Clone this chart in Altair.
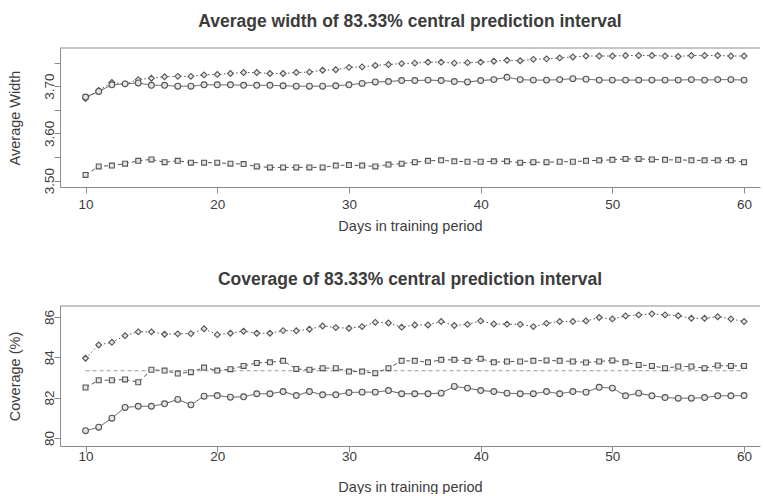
import altair as alt
import pandas as pd

# Training-period lengths (days)
days = list(range(10, 61))

# Average width of the 83.33% central prediction interval, three methods
width_diamond = [3.674, 3.691, 3.708, 3.705, 3.714, 3.717, 3.720, 3.721, 3.721, 3.724,
                 3.725, 3.727, 3.729, 3.729, 3.727, 3.727, 3.729, 3.730, 3.734, 3.735,
                 3.740, 3.741, 3.744, 3.746, 3.748, 3.749, 3.751, 3.751, 3.749, 3.750,
                 3.751, 3.753, 3.755, 3.754, 3.757, 3.758, 3.760, 3.762, 3.764, 3.764,
                 3.764, 3.765, 3.765, 3.765, 3.764, 3.763, 3.765, 3.765, 3.765, 3.764,
                 3.764]
width_circle = [3.677, 3.689, 3.703, 3.705, 3.707, 3.702, 3.702, 3.700, 3.700, 3.703,
                3.703, 3.703, 3.702, 3.702, 3.702, 3.701, 3.700, 3.700, 3.700, 3.701,
                3.703, 3.706, 3.709, 3.710, 3.712, 3.712, 3.713, 3.712, 3.710, 3.709,
                3.712, 3.714, 3.719, 3.714, 3.713, 3.713, 3.714, 3.716, 3.715, 3.713,
                3.713, 3.713, 3.713, 3.713, 3.713, 3.713, 3.714, 3.713, 3.714, 3.714,
                3.713]
width_square = [3.512, 3.530, 3.532, 3.536, 3.542, 3.545, 3.539, 3.542, 3.538, 3.538,
                3.538, 3.536, 3.535, 3.530, 3.528, 3.528, 3.528, 3.528, 3.528, 3.532,
                3.533, 3.532, 3.530, 3.534, 3.536, 3.539, 3.542, 3.543, 3.541, 3.540,
                3.540, 3.541, 3.541, 3.538, 3.539, 3.539, 3.540, 3.540, 3.542, 3.543,
                3.544, 3.546, 3.546, 3.545, 3.544, 3.544, 3.543, 3.543, 3.543, 3.543,
                3.539]

# Coverage (%) of the same interval, three methods
cov_diamond = [83.95, 84.61, 84.74, 85.07, 85.26, 85.26, 85.14, 85.16, 85.17, 85.41,
               85.12, 85.19, 85.29, 85.19, 85.19, 85.32, 85.31, 85.39, 85.55, 85.47,
               85.44, 85.52, 85.73, 85.70, 85.49, 85.60, 85.60, 85.77, 85.57, 85.63,
               85.80, 85.65, 85.64, 85.63, 85.52, 85.68, 85.77, 85.77, 85.80, 85.97,
               85.90, 86.05, 86.10, 86.15, 86.10, 86.06, 85.93, 85.93, 86.01, 85.90,
               85.77]
cov_square = [82.50, 82.86, 82.86, 82.90, 82.76, 83.38, 83.34, 83.19, 83.26, 83.49,
              83.34, 83.41, 83.57, 83.72, 83.75, 83.82, 83.42, 83.38, 83.46, 83.46,
              83.29, 83.29, 83.21, 83.46, 83.82, 83.82, 83.75, 83.87, 83.87, 83.82,
              83.92, 83.75, 83.79, 83.79, 83.82, 83.84, 83.82, 83.79, 83.74, 83.79,
              83.84, 83.75, 83.62, 83.57, 83.46, 83.54, 83.54, 83.46, 83.59, 83.57,
              83.57]
cov_circle = [80.36, 80.53, 80.98, 81.51, 81.57, 81.57, 81.69, 81.91, 81.64, 82.07,
              82.10, 82.02, 82.04, 82.19, 82.19, 82.30, 82.10, 82.30, 82.14, 82.14,
              82.25, 82.27, 82.27, 82.35, 82.19, 82.19, 82.19, 82.22, 82.55, 82.47,
              82.35, 82.30, 82.22, 82.19, 82.19, 82.30, 82.19, 82.30, 82.27, 82.51,
              82.47, 82.09, 82.22, 82.09, 82.00, 81.97, 81.97, 82.00, 82.09, 82.09,
              82.10]

# Nominal coverage of an 83.33% interval
nominal_coverage = 83.33

x_ticks = [10, 20, 30, 40, 50, 60]
width_ticks = [3.50, 3.55, 3.60, 3.65, 3.70, 3.75]
cov_ticks = [80, 81, 82, 83, 84, 85, 86]

FONT = "Liberation Sans"
TEXT = "#3c3c3c"
INK = "#555555"
FRAME = "#8c8c8c"
PANEL_W = 700

x_scale = alt.Scale(domain=[8.06, 61.21], nice=False, zero=False)


def x_axis(label_pad, title_pad):
    return alt.Axis(values=x_ticks, title="Days in training period", grid=False,
                    domainColor=FRAME, tickColor=FRAME, tickSize=6,
                    labelPadding=label_pad, labelFontSize=13.5, labelColor=TEXT,
                    labelFont=FONT, titleFont=FONT, titleFontSize=14.5,
                    titleFontWeight="normal", titleColor=TEXT, titlePadding=title_pad)


def y_axis(title, ticks, label_expr):
    return alt.Axis(values=ticks, title=title, grid=False, domainColor=FRAME,
                    tickColor=FRAME, tickSize=6, labelAngle=270, labelAlign="center",
                    labelBaseline="alphabetic", labelPadding=1, labelFontSize=13.5,
                    labelColor=TEXT, labelFont=FONT, labelExpr=label_expr,
                    minExtent=29, maxExtent=29, titleFont=FONT, titleFontSize=14.5,
                    titleFontWeight="normal", titleColor=TEXT, titlePadding=9)


def series_layers(values, shape, size, dash, x_enc, y_enc):
    df = pd.DataFrame({"day": days, "value": values})
    base = alt.Chart(df).encode(x=x_enc, y=y_enc)
    line = base.mark_line(color=INK, strokeWidth=1, strokeDash=dash)
    pts = base.mark_point(shape=shape, size=size, fill="#e4e4e4", fillOpacity=1,
                          stroke=INK, strokeWidth=1.1, opacity=1)
    return [line, pts]


def frame_top():
    return alt.Chart(pd.DataFrame({"v": [0]})).mark_rule(color=FRAME, strokeWidth=1).encode(
        x=alt.value(0), x2=alt.value(PANEL_W), y=alt.value(0))


def panel_title(text):
    return alt.TitleParams(text, font=FONT, fontSize=17.5, fontWeight="bold", color=TEXT,
                           anchor="middle", baseline="alphabetic", offset=3)


# --- top panel: average width ---
top_x = alt.X("day:Q", scale=x_scale, axis=x_axis(4, 9))
width_y = alt.Y("value:Q",
                scale=alt.Scale(domain=[3.4865, 3.781], nice=False, zero=False),
                axis=y_axis("Average Width", width_ticks,
                            "round(datum.value*100) % 10 == 0 ? format(datum.value, '.2f') : ''"))

top_layers = [frame_top()]
top_layers += series_layers(width_diamond, "diamond", 34, [1.5, 2.5], top_x, width_y)
top_layers += series_layers(width_circle, "circle", 34, [1, 0], top_x, width_y)
top_layers += series_layers(width_square, "square", 24, [4, 3], top_x, width_y)

top = alt.layer(*top_layers).properties(
    width=PANEL_W, height=139,
    title=panel_title("Average width of 83.33% central prediction interval"))

# --- bottom panel: coverage ---
bottom_x = alt.X("day:Q", scale=x_scale, axis=x_axis(-3, 18))
cov_y = alt.Y("value:Q",
              scale=alt.Scale(domain=[79.6, 86.54], nice=False, zero=False),
              axis=y_axis("Coverage (%)", cov_ticks,
                          "datum.value % 2 == 0 ? datum.label : ''"))

nominal_df = pd.DataFrame({"start": [min(days)], "end": [max(days)],
                           "value": [nominal_coverage]})
nominal_rule = alt.Chart(nominal_df).mark_rule(
    color="#9a9a9a", strokeWidth=1, strokeDash=[4, 3]).encode(
    x=alt.X("start:Q", scale=x_scale), x2="end:Q", y=alt.Y("value:Q"))

bottom_layers = [frame_top(), nominal_rule]
bottom_layers += series_layers(cov_diamond, "diamond", 34, [1.5, 2.5], bottom_x, cov_y)
bottom_layers += series_layers(cov_square, "square", 24, [4, 3], bottom_x, cov_y)
bottom_layers += series_layers(cov_circle, "circle", 34, [1, 0], bottom_x, cov_y)

bottom = alt.layer(*bottom_layers).properties(
    width=PANEL_W, height=140,
    title=panel_title("Coverage of 83.33% central prediction interval"))

chart = alt.vconcat(top, bottom, spacing=38).properties(
    padding={"left": 7, "top": 13, "right": 0, "bottom": 0},
    background="white",
).configure_view(stroke=None)

chart.save("out.html", embed_options={"renderer": "svg", "actions": False})
